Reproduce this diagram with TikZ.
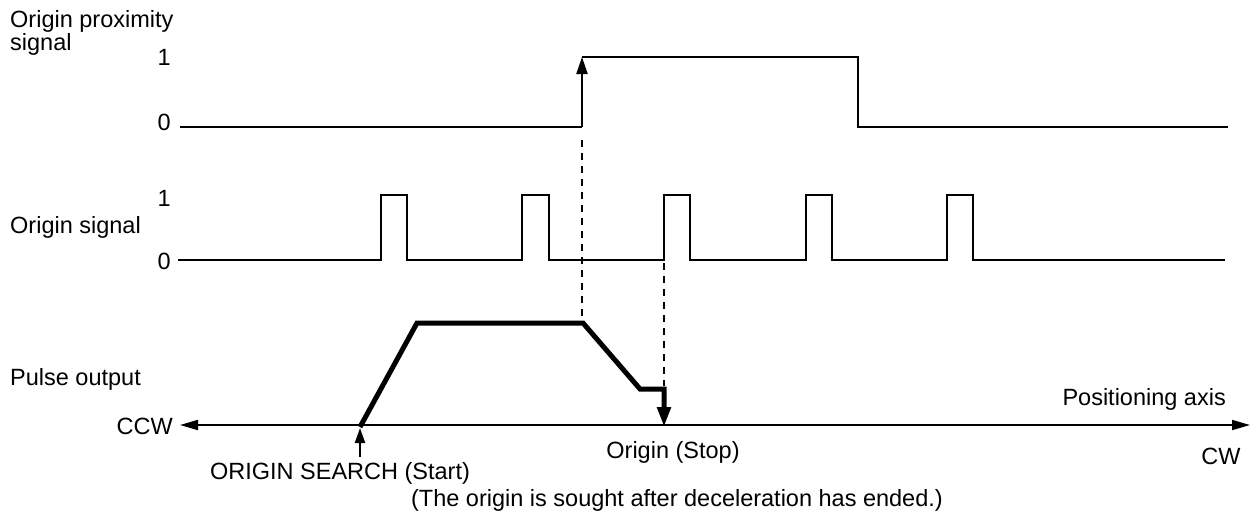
\documentclass[tikz,border=0pt]{standalone}
\usepackage{fontspec}
\setmainfont{Liberation Sans}
\usetikzlibrary{arrows.meta}
\begin{document}
\begin{tikzpicture}[x=1pt,y=-1pt,
  sig/.style={line width=2.2pt, line join=miter},
  thicksig/.style={line width=5pt, line join=miter},
  dsh/.style={line width=2pt, dash pattern=on 7pt off 6pt},
  lbl/.style={inner sep=0pt, font=\fontsize{23.5}{27}\selectfont},
  uparr/.style={-{Triangle[length=17pt,width=11pt]}},
  axarr/.style={{Triangle[length=18pt,width=10pt]}-{Triangle[length=18pt,width=10pt]}}
]
\useasboundingbox (0,0) rectangle (1257,523);

% ---- labels on the left
\node[lbl, anchor=base west] (tprox1) at (10,27) {Origin proximity};
\node[lbl, anchor=base west] (tprox2) at (10,50) {signal};
\node[lbl, anchor=east] (p1) at (171,57) {1};
\node[lbl, anchor=east] (p0l) at (171,122) {0};
\node[lbl, anchor=base west] (torig) at (10,233) {Origin signal};
\node[lbl, anchor=east] (o1) at (171,198) {1};
\node[lbl, anchor=east] (o0l) at (171,261) {0};
\node[lbl, anchor=base west] (tpulse) at (10,385) {Pulse output};

% ---- origin proximity signal
\coordinate (p0) at (180,127);
\coordinate (pr) at (582,127);
\coordinate (prh) at (582,57);
\coordinate (pf) at (858,57);
\coordinate (pfl) at (858,127);
\coordinate (pe) at (1228,127);
\draw[sig] (p0) -- (pr);
\draw[sig, uparr] (pr) -- (prh);
\draw[sig] (prh) -- (pf) -- (pfl) -- (pe);

% ---- origin signal
\coordinate (os) at (178,260);
\coordinate (oe) at (1225,260);
\draw[sig] (os)
  -- (381,260) -- (381,195) -- (407,195) -- (407,260)
  -- (522,260) -- (522,195) -- (549,195) -- (549,260)
  -- (664,260) -- (664,195) -- (690,195) -- (690,260)
  -- (806,260) -- (806,195) -- (832,195) -- (832,260)
  -- (947,260) -- (947,195) -- (973,195) -- (973,260)
  -- (oe);

% ---- pulse output
\coordinate (q0) at (360,427);
\coordinate (q1) at (417,323);
\coordinate (q2) at (583,323);
\coordinate (q3) at (640,389);
\coordinate (q4) at (664,389);
\coordinate (q5) at (664,427);
\draw[thicksig, -{Triangle[length=20pt,width=13pt]}] (q0) -- (q1) -- (q2) -- (q3) -- (q4) -- (q5);

% ---- dashed guides
\coordinate (d1a) at (582,140);
\coordinate (d1b) at (582,320);
\coordinate (d2a) at (664,263);
\coordinate (d2b) at (664,386);
\draw[dsh] (d1a) -- (d1b);
\draw[dsh] (d2a) -- (d2b);

% ---- axis
\node[lbl, anchor=east] (ccw) at (173,426) {CCW};
\coordinate (axl) at (180,425);
\coordinate (axr) at (1250,425);
\draw[line width=1.8pt, axarr] (axl) -- (axr);
\node[lbl, anchor=base east] (posax) at (1226,405) {Positioning axis};
\node[lbl] (cw) at (1221,456) {CW};

% ---- start / stop
\coordinate (st) at (360,457);
\coordinate (stt) at (360,428);
\draw[sig, -{Triangle[length=15pt,width=10pt]}] (st) -- (stt);
\node[lbl] (start) at (340,473) {ORIGIN SEARCH (Start)};
\node[lbl] (stop) at (673,452) {Origin (Stop)};
\node[lbl] (note) at (677,500) {(The origin is sought after deceleration has ended.)};
\end{tikzpicture}
\end{document}
